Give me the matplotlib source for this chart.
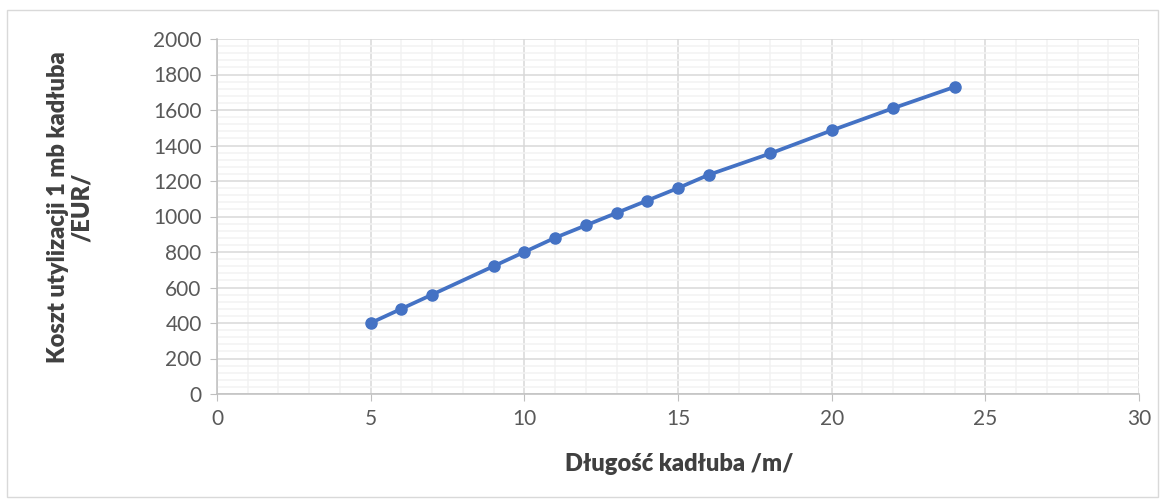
import numpy as np
import matplotlib.pyplot as plt
from matplotlib.ticker import MultipleLocator
from matplotlib.patches import Rectangle

# hull length /m/ and disposal cost per metre /EUR/
dlugosc = [5, 6, 7, 9, 10, 11, 12, 13, 14, 15, 16, 18, 20, 22, 24]
koszt = [400, 480, 560, 720, 800, 880, 950, 1020, 1090, 1160, 1235, 1355, 1485, 1610, 1730]

plt.rcParams['font.family'] = ['Lato', 'DejaVu Sans']

fig = plt.figure(figsize=(11.66, 5.04), dpi=100)
ax = fig.add_axes([217 / 1166, 110 / 504, 922 / 1166, 355 / 504])

# chart border like Excel
fig.patches.append(Rectangle((7 / 1166, 7 / 504), 1151 / 1166, 487 / 504,
                             transform=fig.transFigure, fill=False,
                             edgecolor='#d9d9d9', linewidth=1))

ax.plot(dlugosc, koszt, color='#4472C4', linewidth=2.7, marker='o',
        markersize=8, zorder=3)

ax.set_xlim(0, 30)
ax.set_ylim(0, 2000)
ax.xaxis.set_major_locator(MultipleLocator(5))
ax.xaxis.set_minor_locator(MultipleLocator(1))
ax.yaxis.set_major_locator(MultipleLocator(200))
ax.yaxis.set_minor_locator(MultipleLocator(40))

ax.grid(which='major', color='#d9d9d9', linewidth=1.1)
ax.grid(which='minor', color='#f2f2f2', linewidth=1.1)
ax.set_axisbelow(True)

for s in ['top', 'right']:
    ax.spines[s].set_visible(False)
for s in ['left', 'bottom']:
    ax.spines[s].set_color('#bfbfbf')
    ax.spines[s].set_linewidth(1.1)

ax.tick_params(which='major', length=5, color='#bfbfbf', labelsize=15,
               labelcolor='#595959', pad=6)
ax.tick_params(which='minor', length=0)

fig.text(679 / 1166, 1 - 464 / 504, 'Długość kadłuba /m/', ha='center', va='center',
         fontsize=17, fontweight='heavy', color='#404040')
fig.text(70 / 1166, 1 - 207 / 504, 'Koszt utylizacji 1 mb kadłuba\n/EUR/', ha='center',
         va='center', rotation=90, fontsize=17, fontweight='heavy', color='#404040',
         linespacing=1.15)

fig.savefig('out.png', dpi=100)
